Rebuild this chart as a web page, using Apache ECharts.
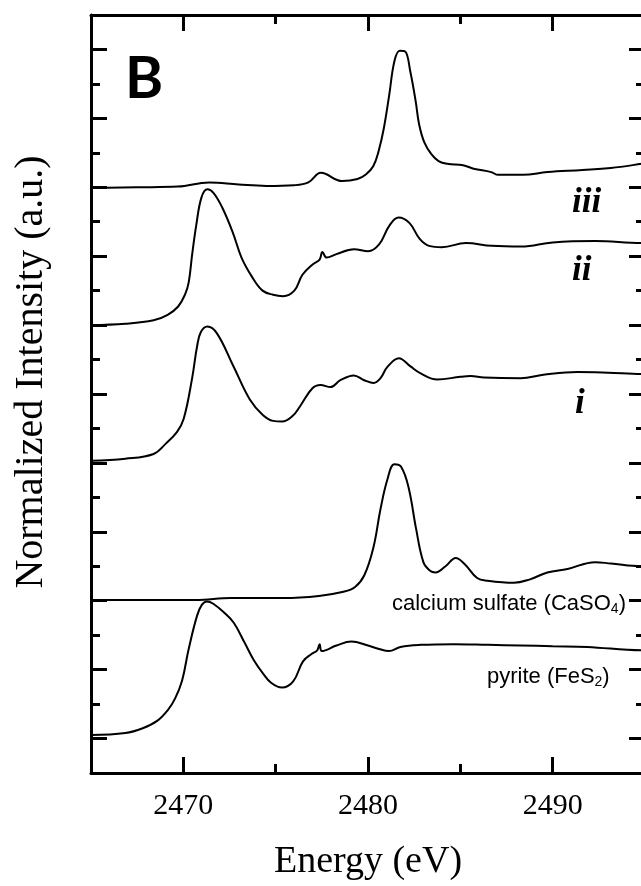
<!DOCTYPE html>
<html><head><meta charset="utf-8">
<script src="https://cdn.jsdelivr.net/npm/echarts@6/dist/echarts.min.js"></script>
<style>html,body{margin:0;padding:0;background:#fff;overflow:hidden;width:641px;height:886px}#c{width:645px;height:886px}</style>
</head><body><div id="c"></div>
<script>
// ---- tick values ----
const xMajorTicks = [2470, 2480, 2490];
const xMinorTicks = [2475, 2485];
const xTickLabels = ['2470', '2480', '2490'];
const yMajorTicks = [0, 1, 2, 3, 4, 5, 6, 7, 8, 9, 10];
const yMinorTicks = [0.5, 1.5, 2.5, 3.5, 4.5, 5.5, 6.5, 7.5, 8.5, 9.5];

// ---- spectra: [energy (eV), offset normalized intensity] ----
const spectrumIII = [[2465,7.99],[2467.5,8.0],[2469.7,8.01],[2471.4,8.07],[2473.0,8.04],[2474.5,8.02],[2476.0,8.03],[2476.77,8.07],[2477.45,8.21],[2478.6,8.09],[2479.43,8.12],[2479.9,8.19],[2480.29,8.31],[2480.58,8.53],[2480.86,8.86],[2481.15,9.34],[2481.43,9.83],[2481.72,9.98],[2482.01,9.97],[2482.29,9.68],[2482.58,9.25],[2482.77,8.91],[2483.05,8.65],[2483.43,8.48],[2483.82,8.38],[2484.29,8.34],[2485.15,8.32],[2485.72,8.27],[2486.67,8.22],[2487.05,8.18],[2488.39,8.18],[2489.72,8.22],[2491.62,8.25],[2493.15,8.28],[2494.82,8.34],[2495,8.35]];

const spectrumII = [[2465,6.0],[2466.86,6.02],[2468.39,6.07],[2469.15,6.15],[2469.72,6.27],[2470.1,6.45],[2470.29,6.62],[2470.48,7.03],[2470.7,7.45],[2470.98,7.85],[2471.3,7.97],[2471.63,7.92],[2472.1,7.71],[2472.67,7.35],[2473.15,6.98],[2473.72,6.7],[2474.29,6.5],[2474.86,6.44],[2475.4,6.42],[2476.01,6.5],[2476.45,6.73],[2477.0,6.88],[2477.38,6.95],[2477.53,7.06],[2477.76,6.98],[2478.29,7.03],[2479.24,7.1],[2480.01,7.07],[2480.6,7.17],[2481.15,7.44],[2481.65,7.56],[2482.25,7.48],[2482.8,7.25],[2483.3,7.15],[2484.0,7.13],[2485.3,7.19],[2486.7,7.15],[2488.3,7.14],[2490.0,7.2],[2492.3,7.22],[2494.82,7.19],[2495,7.19]];

const spectrumI = [[2465,4.03],[2466.86,4.06],[2468.39,4.13],[2469.05,4.28],[2469.66,4.45],[2470.02,4.64],[2470.47,5.22],[2470.75,5.7],[2470.95,5.9],[2471.3,5.98],[2471.82,5.88],[2472.7,5.41],[2473.6,4.92],[2474.29,4.7],[2474.86,4.61],[2475.35,4.6],[2475.91,4.68],[2476.34,4.83],[2476.98,5.08],[2477.43,5.13],[2477.97,5.1],[2478.5,5.2],[2479.23,5.27],[2479.8,5.2],[2480.31,5.16],[2480.68,5.23],[2481.04,5.39],[2481.67,5.52],[2482.3,5.4],[2482.85,5.3],[2483.75,5.21],[2485.0,5.25],[2485.56,5.26],[2486.28,5.24],[2488.27,5.23],[2489.5,5.28],[2491.34,5.32],[2493.0,5.31],[2494.82,5.29],[2495,5.29]];

const spectrumCaSO4 = [[2465,2.01],[2470.67,2.01],[2472.58,2.04],[2475.43,2.04],[2477.34,2.07],[2478.67,2.13],[2479.3,2.2],[2479.8,2.37],[2480.29,2.77],[2480.67,3.32],[2481.05,3.76],[2481.43,3.98],[2481.8,3.94],[2482.2,3.64],[2482.6,3.05],[2483.0,2.56],[2483.34,2.44],[2483.65,2.41],[2484.2,2.5],[2484.75,2.62],[2485.24,2.53],[2485.91,2.33],[2486.48,2.29],[2487.9,2.26],[2488.77,2.31],[2489.71,2.41],[2490.8,2.46],[2492.3,2.56],[2493.15,2.54],[2494.82,2.5],[2495,2.5]];

const spectrumPyrite = [[2465,0.05],[2466.86,0.08],[2467.8,0.15],[2468.6,0.26],[2469.15,0.41],[2469.55,0.58],[2469.93,0.84],[2470.29,1.3],[2470.74,1.78],[2471.0,1.94],[2471.28,1.99],[2471.6,1.96],[2472.2,1.83],[2472.73,1.68],[2473.3,1.4],[2473.81,1.14],[2474.3,0.95],[2474.75,0.81],[2475.34,0.74],[2475.95,0.83],[2476.48,1.12],[2476.96,1.23],[2477.25,1.28],[2477.38,1.37],[2477.5,1.27],[2478.29,1.35],[2479.1,1.41],[2480.0,1.35],[2480.6,1.3],[2481.13,1.27],[2481.76,1.33],[2482.85,1.36],[2484.65,1.37],[2486.5,1.36],[2488.27,1.35],[2490.0,1.34],[2491.88,1.33],[2494.82,1.28],[2495,1.28]];

const seriesList = [spectrumIII, spectrumII, spectrumI, spectrumCaSO4, spectrumPyrite];

const serif = '"Liberation Serif", "Times New Roman", serif';
const sans = '"Liberation Sans", Arial, sans-serif';
const black = '#000';

function xAx(pos, ticks, len, main) {
  const bottomMain = main && pos === 'bottom';
  return {
    type: 'value', min: 2465, max: 2495, position: pos,
    axisLine: { show: !!main, onZero: false, lineStyle: { color: black, width: 3 } },
    axisTick: { show: true, inside: true, length: len, customValues: ticks, lineStyle: { color: black, width: 3 } },
    axisLabel: bottomMain ? { show: true, customValues: xMajorTicks, formatter: v => xTickLabels[xMajorTicks.indexOf(v)] || '', fontFamily: serif, fontSize: 30, color: black, margin: 18 } : { show: false },
    splitLine: { show: false },
    name: bottomMain ? 'Energy (eV)' : '',
    nameLocation: 'middle', nameGap: 70,
    nameTextStyle: { fontFamily: serif, fontSize: 38, color: black }
  };
}
function yAx(pos, ticks, len, main) {
  return {
    type: 'value', min: -0.5, max: 10.5, position: pos,
    axisLine: { show: !!main, onZero: false, lineStyle: { color: black, width: 3 } },
    axisTick: { show: true, inside: true, length: len, customValues: ticks, lineStyle: { color: black, width: 3 } },
    axisLabel: { show: false },
    splitLine: { show: false }
  };
}

const chart = echarts.init(document.getElementById('c'), null, { renderer: 'canvas', width: 645, height: 886 });
chart.setOption({
  animation: false,
  backgroundColor: '#fff',
  grid: { left: 91, right: 0, top: 15, bottom: 112, containLabel: false },
  xAxis: [
    xAx('bottom', xMajorTicks, 16, true),
    xAx('bottom', xMinorTicks, 9, false),
    xAx('top', xMajorTicks, 16, true),
    xAx('top', xMinorTicks, 9, false)
  ],
  yAxis: [
    yAx('left', yMajorTicks, 16, true),
    yAx('left', yMinorTicks, 9, false),
    yAx('right', yMajorTicks, 16, true),
    yAx('right', yMinorTicks, 9, false)
  ],
  series: seriesList.map(d => ({
    type: 'line', xAxisIndex: 0, yAxisIndex: 0, data: d,
    showSymbol: false, smooth: 0.4, silent: true,
    lineStyle: { color: black, width: 2 }
  })),
  graphic: [
    { type: 'text', x: 31, y: 372, rotation: Math.PI / 2,
      style: { text: 'Normalized Intensity (a.u.)', font: '40px ' + serif, fill: black, align: 'center', verticalAlign: 'middle', textAlign: 'center', textVerticalAlign: 'middle' } },
    { type: 'text', x: 125, y: 79,
      style: { text: 'B', font: 'bold 58px Lato, "Open Sans", sans-serif', fill: black, align: 'left', verticalAlign: 'middle', textAlign: 'left', textVerticalAlign: 'middle' } },
    { type: 'text', x: 572, y: 203,
      style: { text: 'iii', font: 'italic bold 35px ' + serif, fill: black, align: 'left', verticalAlign: 'middle', textAlign: 'left', textVerticalAlign: 'middle' } },
    { type: 'text', x: 572, y: 271,
      style: { text: 'ii', font: 'italic bold 35px ' + serif, fill: black, align: 'left', verticalAlign: 'middle', textAlign: 'left', textVerticalAlign: 'middle' } },
    { type: 'text', x: 575, y: 404,
      style: { text: 'i', font: 'italic bold 35px ' + serif, fill: black, align: 'left', verticalAlign: 'middle', textAlign: 'left', textVerticalAlign: 'middle' } },
    { type: 'text', x: 392, y: 604,
      style: { text: '{a|calcium sulfate (CaSO}{s|4}{a|)}', align: 'left', verticalAlign: 'middle', textAlign: 'left', textVerticalAlign: 'middle',
        rich: { a: { fontFamily: sans, fontSize: 22, lineHeight: 24, fill: black, color: black },
                s: { fontFamily: sans, fontSize: 14, lineHeight: 10, verticalAlign: 'bottom', fill: black, color: black } } } },
    { type: 'text', x: 487, y: 677,
      style: { text: '{a|pyrite (FeS}{s|2}{a|)}', align: 'left', verticalAlign: 'middle', textAlign: 'left', textVerticalAlign: 'middle',
        rich: { a: { fontFamily: sans, fontSize: 22, lineHeight: 24, fill: black, color: black },
                s: { fontFamily: sans, fontSize: 14, lineHeight: 10, verticalAlign: 'bottom', fill: black, color: black } } } }
  ]
});
</script>
</body></html>
